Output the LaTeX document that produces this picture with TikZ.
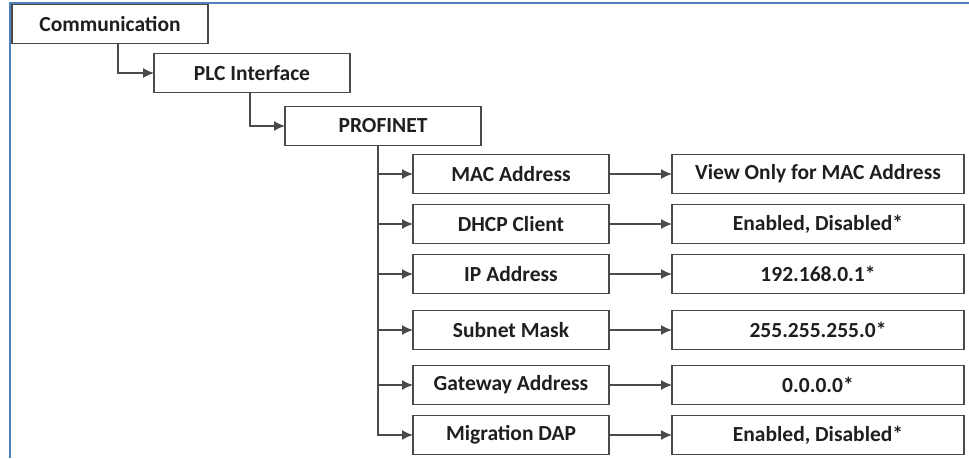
\documentclass[tikz,border=0pt]{standalone}
\usepackage{fontspec}
\setmainfont{Carlito}
\usepackage{xcolor}
\usepackage{tikz}
\usetikzlibrary{positioning,arrows.meta}

\definecolor{framebl}{HTML}{4F81BD}
\definecolor{edgegr}{HTML}{4A4A4A}

\begin{document}
\begin{tikzpicture}[
  x=1pt, y=1pt,
  font=\fontsize{21.5}{25}\selectfont\bfseries,
  menu/.style={draw=edgegr, line width=1.4pt, fill=white, text=black!88,
    minimum height=39pt, inner sep=0pt, outer sep=0pt, align=center},
  item/.style={menu, minimum width=196pt},
  value/.style={menu, minimum width=292pt},
  arrow/.style={-{Latex[length=11pt,width=10pt]}, draw=edgegr, line width=1.4pt},
]
\useasboundingbox (0,0) rectangle (969,-458);

% Blue frame, open at the right and bottom.
\draw[framebl, line width=2pt] (969,-3) -- (10,-3) -- (10,-458);

% The menu path, stepping down to the right.
\node[item] (comm) at (110,-24) {Communication};
\node[item] (plc)  [below right=10pt and -54pt of comm] {PLC Interface};
\node[item] (prof) [below right=14pt and -65pt of plc]  {PROFINET};

% PROFINET settings.
\node[item] (mac)    [below right=9pt and -68pt of prof] {MAC Address};
\node[item] (dhcp)   [below=11pt of mac]    {DHCP Client};
\node[item] (ip)     [below=11pt of dhcp]   {IP Address};
\node[item] (subnet) [below=17pt of ip]     {Subnet Mask};
\node[item] (gate)   [below=16pt of subnet] {Gateway Address};
\node[item] (dap)    [below=11pt of gate]   {Migration DAP};

% Their values.
\node[value] (macv)    [right=63pt of mac]    {View Only for MAC Address};
\node[value] (dhcpv)   [right=63pt of dhcp]   {Enabled, Disabled*};
\node[value] (ipv)     [right=63pt of ip]     {192.168.0.1*};
\node[value] (subnetv) [right=63pt of subnet] {255.255.255.0*};
\node[value] (gatev)   [right=63pt of gate]   {0.0.0.0*};
\node[value] (dapv)    [right=63pt of dap]    {Enabled, Disabled*};

% Connectors.
\draw[arrow] ([xshift=8pt]comm.south) |- (plc.west);
\draw[arrow] ([xshift=-2pt]plc.south) |- (prof.west);
\foreach \n in {mac,dhcp,ip,subnet,gate,dap}{
  \draw[arrow] ([xshift=-5pt]prof.south) |- (\n.west);
  \draw[arrow] (\n) -- (\n v);
}

\end{tikzpicture}
\end{document}
